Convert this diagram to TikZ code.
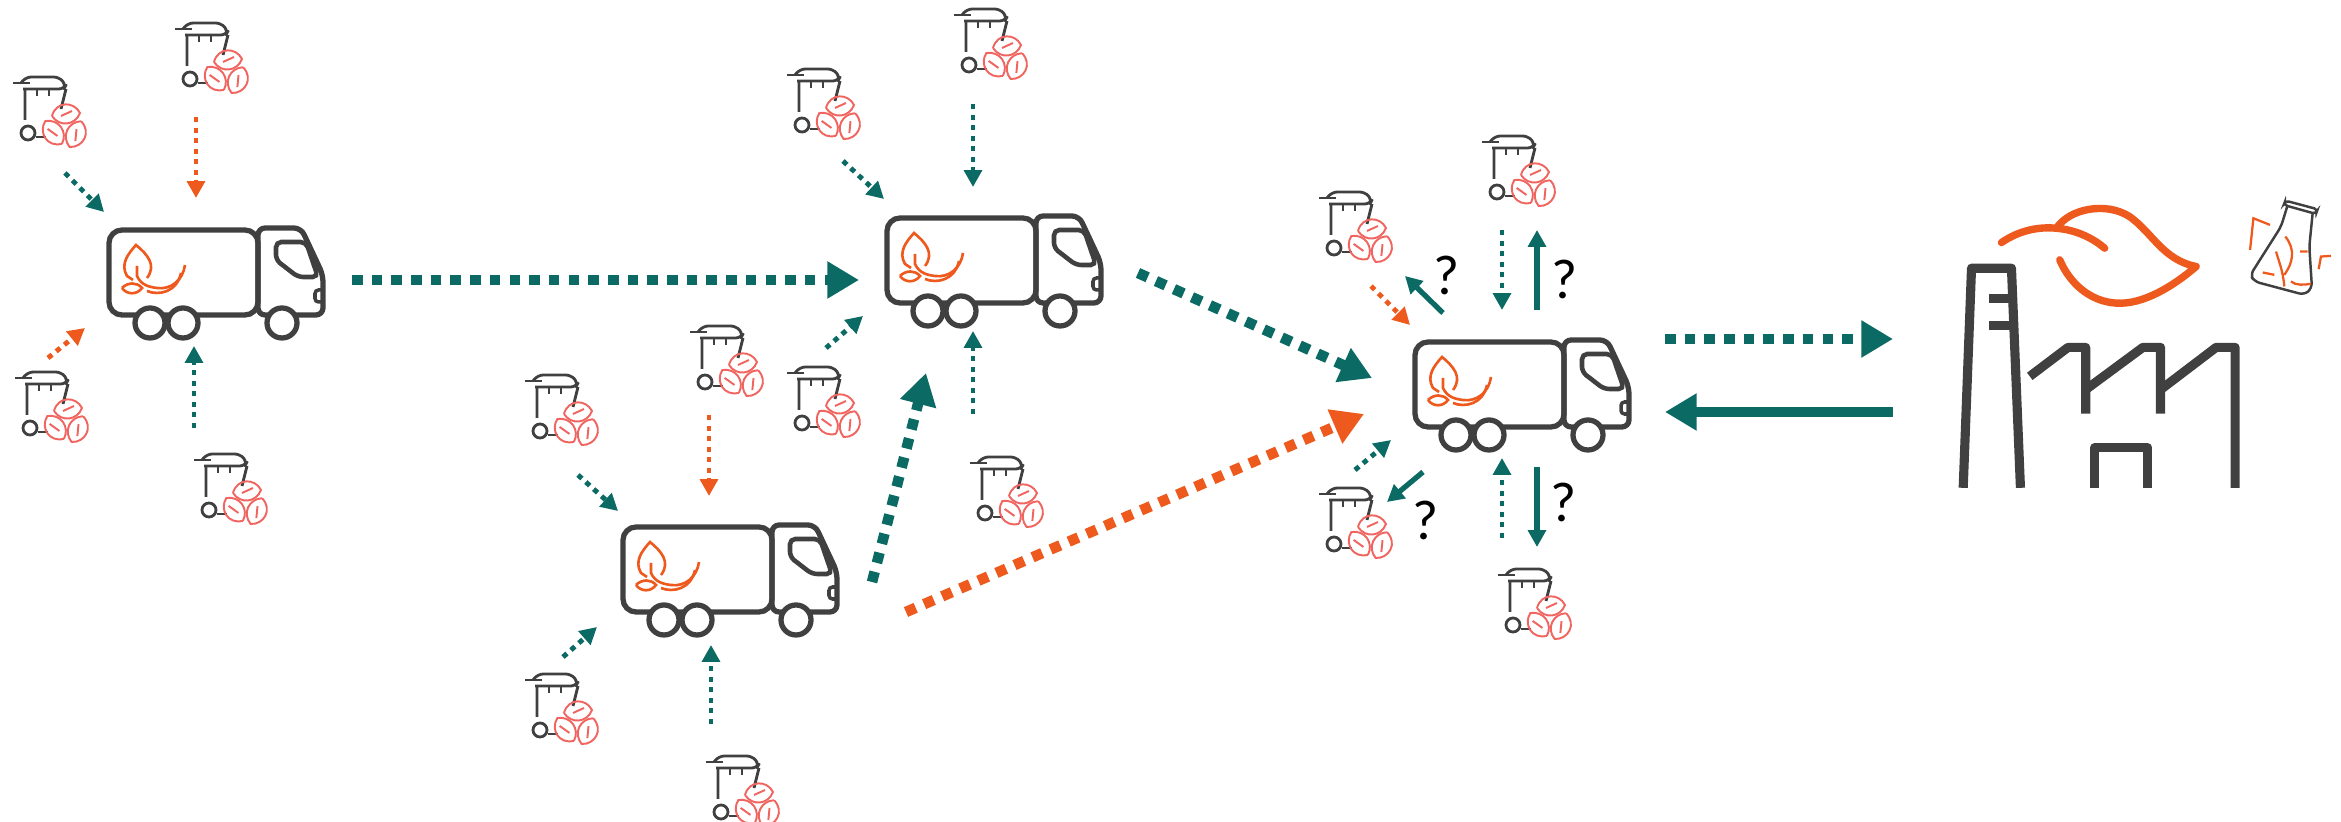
\documentclass[tikz,border=0pt]{standalone}
\usepackage{fontspec}
\setmainfont{Carlito}
\usetikzlibrary{arrows.meta}
\definecolor{mygrey}{HTML}{404040}
\definecolor{mygreen}{HTML}{0B6A64}
\definecolor{myorange}{HTML}{EE5A1E}
\definecolor{mypink}{HTML}{F0655F}
\tikzset{
  thinflow/.style={line width=1.4pt, dash pattern=on 1.5pt off 1.5pt, -{Triangle[length=4.8pt,width=5pt]}},
  thickflow/.style={line width=3pt, dash pattern=on 3pt off 2.6pt, -{Triangle[length=9pt,width=10pt]}},
  thinback/.style={line width=1.5pt, mygreen, -{Triangle[length=4.8pt,width=5pt]}},
  thickback/.style={line width=3pt, mygreen, -{Triangle[length=9pt,width=10pt]}},
  greenthin/.style={thinflow, mygreen},
  orangethin/.style={thinflow, myorange},
  greenthick/.style={thickflow, mygreen},
  orangethick/.style={thickflow, myorange},
  mark label/.style={font=\fontsize{16}{16}\selectfont, inner sep=0pt},
  pics/truck/.style={code={
    \draw[mygrey, line width=1.5pt, rounded corners=3.7pt] (0,0) rectangle (149,85);
    \draw[mygrey, line width=1.5pt, rounded corners=2pt, line join=round] (149,-2) -- (192,-2) -- (214,45) -- (214,85) -- (149,85) -- cycle;
    \draw[mygrey, line width=1.3pt, rounded corners=1.5pt] (167,12) -- (197,12) -- (209,47) -- (189,47) -- (167,30) -- cycle;
    \draw[mygrey, line width=1pt, rounded corners=1pt] (214,60) -- (206,60) -- (206,72) -- (214,72);
    \foreach \wx in {41,74,173}
      \draw[mygrey, line width=1.5pt, fill=white] (\wx,93) circle (15);
    \draw[myorange, line width=.75pt] (38,48) .. controls (48,35) and (38,24) .. (27,15) .. controls (19,24) and (11,34) .. (18,46) -- (24,50);
    \draw[myorange, line width=.75pt] (28,36) -- (28,46) .. controls (32,55) and (40,57) .. (48,58) .. controls (62,60) and (74,50) .. (76,35);
    \draw[myorange, line width=.75pt] (72,43) .. controls (68,62) and (50,66) .. (38,61);
    \draw[myorange, line width=.75pt] (13,58) .. controls (19,52) and (28,52) .. (33,58) .. controls (28,65) and (18,65) .. (13,58);
  }},
  pics/bin/.style={code={
    \draw[mygrey, line width=.8pt] (-15,-50) -- (2,-50);
    \draw[mygrey, line width=.8pt, rounded corners=1.5pt] (-7,-50) -- (-2,-56) -- (31,-56) -- (38,-48) -- (36,-44) -- (-5,-44);
    \draw[mygrey, line width=.8pt] (-3,-44) -- (-3,-13) (38,-44) -- (33,-24);
    \draw[mygrey, line width=.8pt] (9,-44) -- (9,-37) (21,-44) -- (21,-37);
    \draw[mygrey, line width=.8pt] (0,0) circle (7);
    \draw[mygrey, line width=.8pt] (8,4) -- (18,4);
    \foreach \ang in {0,120,240}
      \draw[mypink, line width=.55pt, rotate around={\ang:(37,-6)}] (24,-17) .. controls (28,-32) and (46,-32) .. (52,-20) .. controls (47,-7) and (31,-6) .. (24,-17) (33,-17) -- (44,-22);
  }}
}
\begin{document}
\begin{tikzpicture}[x=0.01cm, y=-0.01cm]
  \useasboundingbox (0,0) rectangle (2341,822);
  % collection trucks
  \foreach \tname/\tx/\ty in {t1/109/230, t2/887/218, t3/623/527, t4/1415/342}
    \pic (\tname) at (\tx,\ty) {truck};
  % waste bins
  \foreach \bname/\bx/\by in {b1/28/133, b2/190/79, b3/30/428, b4/209/510,
      b5/802/125, b6/969/65, b7/802/423, b8/985/513,
      b9/540/431, b10/705/382, b11/540/730, b12/721/812,
      b13/1497/192, b14/1334/248, b15/1334/544, b16/1513/625}
    \pic (\bname) at (\bx,\by) {bin};
  % flows
  \foreach \fname/\sx/\sy/\ex/\ey/\kind in {
      f1/65/173/104/212/greenthin, f2/196/117/196/198/orangethin,
      f3/48/358/85/328/orangethin, f4/194/428/194/346/greenthin,
      f5/352/280/859/280/greenthick,
      f6/843/161/884/199/greenthin, f7/973/104/973/187/greenthin,
      f8/826/348/863/316/greenthin, f9/973/414/973/331/greenthin,
      f10/872/582/926/373/greenthick, f11/1138/273/1372/378/greenthick,
      f12/906/612/1364/414/orangethick,
      f13/578/475/618/511/greenthin, f14/709/415/709/496/orangethin,
      f15/563/657/597/627/greenthin, f16/711/724/711/645/greenthin,
      f17/1371/286/1410/325/orangethin, f18/1443/313/1405/276/thinback,
      f19/1502/230/1502/310/greenthin, f20/1537/310/1537/230/thinback,
      f21/1355/470/1391/440/greenthin, f22/1423/472/1387/502/thinback,
      f23/1502/538/1502/458/greenthin, f24/1537/467/1537/547/thinback,
      f25/1665/339/1893/339/greenthick, f26/1893/412/1665/412/thickback} {
    \coordinate (\fname s) at (\sx,\sy);
    \coordinate (\fname e) at (\ex,\ey);
    \draw[\kind] (\fname s) -- (\fname e);
  }
  \node[mark label] (q1) at (1447,275) {?};
  \node[mark label] (q2) at (1565,279) {?};
  \node[mark label] (q3) at (1426,520) {?};
  \node[mark label] (q4) at (1564,502) {?};
  % plant
  \begin{scope}[shift={(1880,180)}, x=0.00333cm, y=-0.00333cm]
    \draw[mygrey, line width=2.6pt, line join=round] (250,925) -- (275,265) -- (395,265) -- (422,925);
    \draw[mygrey, line width=2.6pt] (328,357) -- (395,357) (328,438) -- (395,438);
    \draw[mygrey, line width=2.6pt, line join=round] (450,590) -- (565,503) -- (618,503) -- (618,702);
    \draw[mygrey, line width=2.6pt, line join=round] (618,630) -- (790,503) -- (843,503) -- (843,702);
    \draw[mygrey, line width=2.6pt, line join=round] (843,630) -- (1010,503) -- (1067,503) -- (1067,925);
    \draw[mygrey, line width=2.6pt, line join=round] (645,927) -- (645,805) -- (805,805) -- (805,927);
    \draw[myorange, line width=2.1pt, line cap=round, line join=round] (365,188) .. controls (420,150) and (480,140) .. (530,145) .. controls (570,85) and (680,65) .. (750,110) .. controls (820,160) and (850,240) .. (950,260) .. controls (880,320) and (790,375) .. (710,370) .. controls (630,365) and (570,310) .. (540,240);
    \draw[myorange, line width=2.1pt, line cap=round] (530,145) .. controls (590,150) and (640,175) .. (675,205);
    \draw[mygrey, line width=.7pt, line join=round, rounded corners=1.5pt] (1225,75) -- (1205,140) -- (1113,285) -- (1125,305) -- (1275,345) -- (1298,325) -- (1290,200) -- (1300,100);
    \draw[mygrey, line width=.7pt, rounded corners=1pt] (1218,62) -- (1315,88) -- (1310,102) -- (1213,75) -- cycle;
    \draw[myorange, line width=.65pt] (1112,210) -- (1122,115) -- (1172,135);
    \draw[myorange, line width=.65pt] (1218,170) .. controls (1250,210) and (1240,250) .. (1215,285) (1190,215) .. controls (1200,250) and (1210,270) .. (1215,320) (1150,278) -- (1185,285) (1235,305) .. controls (1250,318) and (1275,315) .. (1295,312) (1262,215) -- (1285,215) (1318,268) -- (1325,230) -- (1355,228);
  \end{scope}
\end{tikzpicture}
\end{document}
